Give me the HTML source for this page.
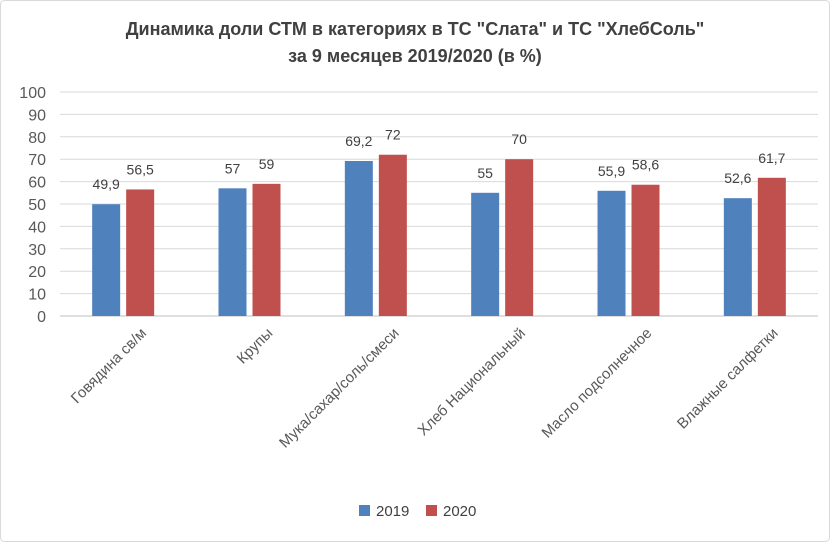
<!DOCTYPE html>
<html><head><meta charset="utf-8"><style>
html,body{margin:0;padding:0;background:#fff;}
svg{display:block;font-family:"Liberation Sans","DejaVu Sans",sans-serif;}
</style></head><body>
<svg id="chart" width="830" height="542" viewBox="0 0 830 542">
<rect x="0.5" y="0.5" width="829" height="541" rx="4" fill="#fff" stroke="#d9d9d9"/>
<text x="415" y="35" text-anchor="middle" font-size="18" font-weight="bold" fill="#404040">Динамика доли СТМ в категориях в ТС "Слата"  и ТС "ХлебСоль"</text>
<text x="415" y="62" text-anchor="middle" font-size="18" font-weight="bold" fill="#404040">за 9 месяцев 2019/2020 (в %)</text>
<g id="grid"></g><g id="bars"></g><g id="labels"></g>
<g>
<rect x="359" y="505" width="11" height="11" fill="#4f81bd"/>
<text x="376" y="516" font-size="15" fill="#404040">2019</text>
<rect x="426" y="505" width="11" height="11" fill="#c0504d"/>
<text x="443" y="516" font-size="15" fill="#404040">2020</text>
</g>
</svg>
<script>
const categories=["Говядина св/м","Крупы","Мука/сахар/соль/смеси","Хлеб Национальный","Масло подсолнечное","Влажные салфетки"];
const series2019=[49.9,57,69.2,55,55.9,52.6];
const series2020=[56.5,59,72,70,58.6,61.7];
const labels2019=["49,9","57","69,2","55","55,9","52,6"];
const labels2020=["56,5","59","72","70","58,6","61,7"];
const yTicks=[0,10,20,30,40,50,60,70,80,90,100];
const NS="http://www.w3.org/2000/svg";
const x0=60,x1=818,yb=316,yt=92;
const y=v=>yb-(v/100)*(yb-yt);
const bw=(x1-x0)/categories.length;
const cx=i=>x0+bw*(i+0.5);
function mk(t,a,p){const e=document.createElementNS(NS,t);for(const k in a)e.setAttribute(k,a[k]);p.appendChild(e);return e;}
const g=document.getElementById('grid'),b=document.getElementById('bars'),l=document.getElementById('labels');
yTicks.forEach(v=>{
 const ln=mk('line',{x1:x0,x2:x1,y1:y(v),y2:y(v),stroke:v===0?'#bfbfbf':'#d9d9d9','stroke-width':1},g);
 
 
 const t=mk('text',{x:46,y:y(v)+6,'text-anchor':'end','font-size':16,fill:'#595959'},g);
 t.textContent=v;
 
 
});
const barW=28,gap=6;
categories.forEach((c,i)=>{
 const xa=cx(i)-gap/2-barW, xb=cx(i)+gap/2;
 const r1=mk('rect',{x:xa,y:y(series2019[i]),width:barW,height:yb-y(series2019[i]),fill:'#4f81bd'},b);
 
 
 const r2=mk('rect',{x:xb,y:y(series2020[i]),width:barW,height:yb-y(series2020[i]),fill:'#c0504d'},b);
 
 
 const t1=mk('text',{x:xa+barW/2,y:y(series2019[i])-15,'text-anchor':'middle','font-size':14,fill:'#404040'},l);
 t1.textContent=labels2019[i];
 
 
 const t2=mk('text',{x:xb+barW/2,y:y(series2020[i])-15,'text-anchor':'middle','font-size':14,fill:'#404040'},l);
 
 
 t2.textContent=labels2020[i];
 const lx=cx(i)+24, ly=334;
 const cl=mk('text',{x:lx,y:ly,'text-anchor':'end','font-size':15,fill:'#595959',transform:`rotate(-45 ${lx} ${ly})`},l);
 cl.textContent=c;
 
 
});
</script>
</body></html>
